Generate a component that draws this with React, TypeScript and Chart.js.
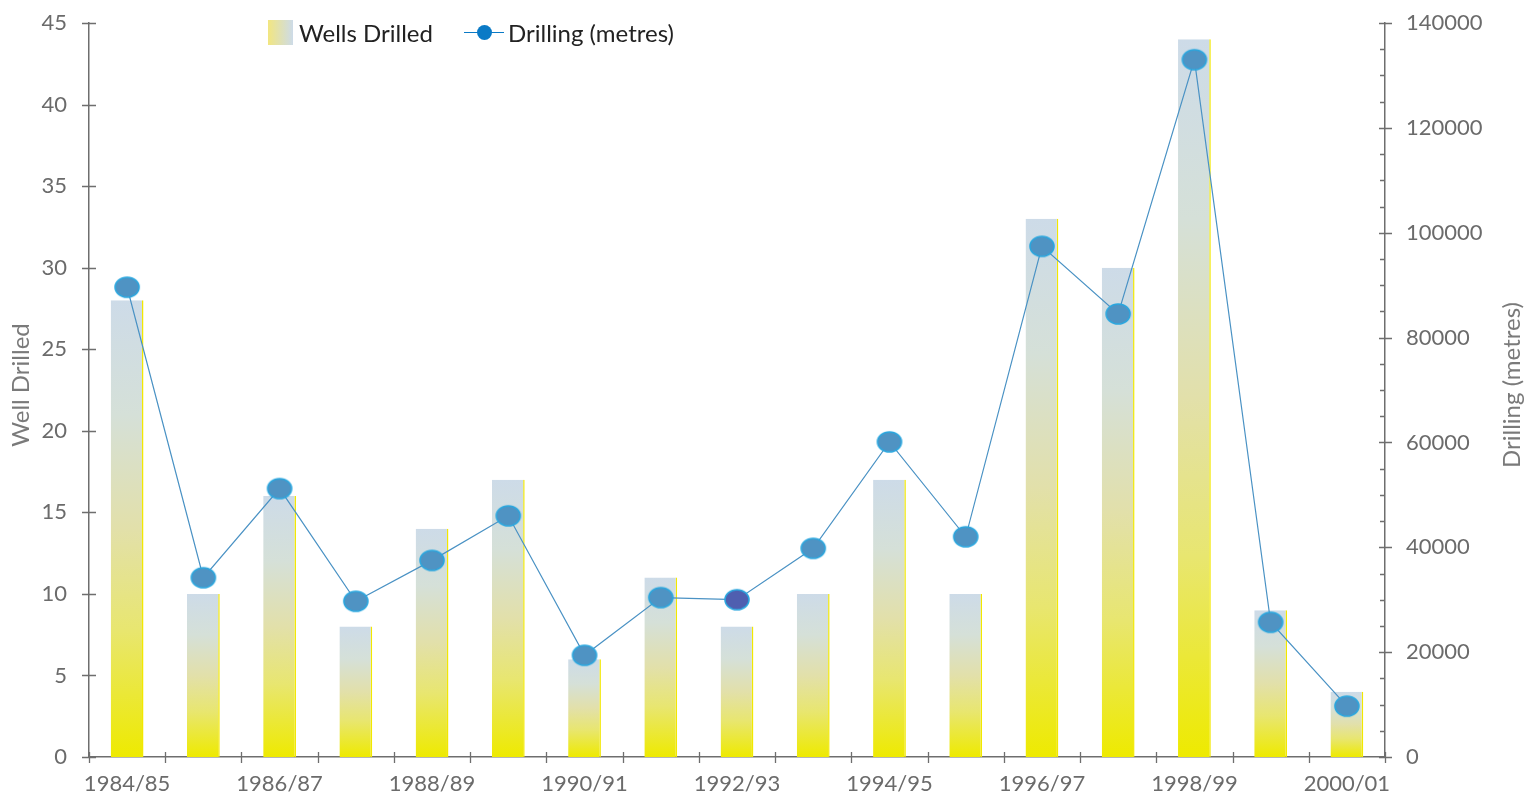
import React, { useEffect, useRef } from "react";
import { Chart, registerables } from "chart.js";

Chart.register(...registerables);

const categories = [
  "1984/85", "1985/86", "1986/87", "1987/88", "1988/89", "1989/90", "1990/91", "1991/92",
  "1992/93", "1993/94", "1994/95", "1995/96", "1996/97", "1997/98", "1998/99", "1999/00", "2000/01",
];
const wellsDrilled = [28, 10, 16, 8, 14, 17, 6, 11, 8, 10, 17, 10, 33, 30, 44, 9, 4];
const drillingMetres = [
  89600, 34200, 51200, 29700, 37500, 46000, 19400, 30400, 30000, 39800, 60100, 42000, 97400,
  84500, 133000, 25700, 9700,
];
const pointFills = [
  "#4f93c3", "#4f93c3", "#4f93c3", "#4f93c3", "#4f93c3", "#4f93c3", "#4f93c3", "#4f93c3",
  "#4f5fb0", "#4f93c3", "#4f93c3", "#4f93c3", "#4f93c3", "#4f93c3", "#4f93c3", "#4f93c3", "#4f93c3",
];
const leftTicks = [0, 5, 10, 15, 20, 25, 30, 35, 40, 45];
const rightTicks = [0, 20000, 40000, 60000, 80000, 100000, 120000, 140000];

const FONT = "Lato, 'Open Sans', sans-serif";
const AXIS_COLOR = "#6e6e6e";
const TEXT_COLOR = "#6b6b6b";

function makeEllipse(fill: string): HTMLCanvasElement {
  const c = document.createElement("canvas");
  c.width = 28;
  c.height = 24;
  const g = c.getContext("2d")!;
  g.beginPath();
  g.ellipse(14, 12, 12, 10, 0, 0, Math.PI * 2);
  g.fillStyle = fill;
  g.fill();
  g.lineWidth = 1.6;
  g.strokeStyle = "#2aa6de";
  g.stroke();
  return c;
}

const axisPlugin = {
  id: "customAxes",
  afterDraw(chart: any) {
    const { ctx, chartArea, scales } = chart;
    const y = scales.y;
    const y1 = scales.y1;
    ctx.save();
    ctx.strokeStyle = AXIS_COLOR;
    ctx.lineWidth = 1.3;
    ctx.beginPath();
    for (const v of leftTicks) {
      const py = Math.round(y.getPixelForValue(v)) + 0.5;
      ctx.moveTo(chartArea.left - 7, py);
      ctx.lineTo(chartArea.left + 7, py);
    }
    for (const v of rightTicks) {
      const py = Math.round(y1.getPixelForValue(v)) + 0.5;
      ctx.moveTo(chartArea.right - 6, py);
      ctx.lineTo(chartArea.right + 7, py);
    }
    for (let v = 5000; v < 140000; v += 5000) {
      if (v % 20000 === 0) continue;
      const py = Math.round(y1.getPixelForValue(v)) + 0.5;
      ctx.moveTo(chartArea.right - 5, py);
      ctx.lineTo(chartArea.right, py);
    }
    const n = categories.length;
    for (let i = 0; i <= n; i++) {
      const px = Math.round(chartArea.left + (i * (chartArea.right - chartArea.left)) / n) + 0.5;
      ctx.moveTo(px, chartArea.bottom - 5);
      ctx.lineTo(px, chartArea.bottom + 6);
    }
    ctx.stroke();

    ctx.fillStyle = "#7a7a7a";
    ctx.font = `24px ${FONT}`;
    ctx.textAlign = "center";
    ctx.textBaseline = "middle";
    const cy = 385;
    ctx.translate(21, cy);
    ctx.rotate(-Math.PI / 2);
    ctx.fillText("Well Drilled", 0, 0);
    ctx.setTransform(1, 0, 0, 1, 0, 0);
    ctx.translate(1512, cy);
    ctx.rotate(-Math.PI / 2);
    ctx.fillText("Drilling (metres)", 0, 0);
    ctx.restore();
  },
};

export default function App() {
  const ref = useRef<HTMLCanvasElement | null>(null);

  useEffect(() => {
    const canvas = ref.current!;
    const pointImgs = pointFills.map((f) => makeEllipse(f));

    const barGradient = (context: any) => {
      const chart = context.chart;
      const ys = chart.scales?.y;
      if (!ys || context.parsed === undefined) return "#e6e690";
      const v = context.parsed.y;
      const top = ys.getPixelForValue(v);
      const bottom = ys.getPixelForValue(0);
      if (!isFinite(top) || !isFinite(bottom) || top === bottom) return "#e6e690";
      const g = chart.ctx.createLinearGradient(0, top, 0, bottom);
      g.addColorStop(0, "#cddbe8");
      g.addColorStop(0.25, "#d5e0d8");
      g.addColorStop(0.5, "#e2e0aa");
      g.addColorStop(0.72, "#e8e670");
      g.addColorStop(1, "#eeea00");
      return g;
    };

    const zeroPad = (s: any) => {
      s.paddingTop = 0;
      s.paddingBottom = 0;
    };

    const chart = new Chart(canvas, {
      data: {
        labels: categories,
        datasets: [
          {
            type: "line",
            label: "Drilling (metres)",
            data: drillingMetres,
            yAxisID: "y1",
            borderColor: "#4a92c4",
            borderWidth: 1.2,
            pointStyle: pointImgs as any,
            pointRadius: 12,
            order: 0,
          } as any,
          {
            type: "bar",
            label: "Wells Drilled",
            data: wellsDrilled,
            yAxisID: "y",
            backgroundColor: barGradient,
            borderColor: "#f2e800",
            borderWidth: { top: 0, left: 0, bottom: 0, right: 1.5 },
            borderSkipped: false,
            barPercentage: 0.43,
            categoryPercentage: 1,
            order: 1,
          } as any,
        ],
      },
      options: {
        animation: false,
        responsive: false,
        maintainAspectRatio: false,
        layout: { padding: { top: 23, left: 0, right: 0, bottom: 0 } },
        plugins: {
          legend: { display: false },
          tooltip: { enabled: false },
        },
        scales: {
          x: {
            type: "category",
            offset: true,
            grid: { display: false, drawTicks: false },
            border: { display: true, color: AXIS_COLOR, width: 1.5 },
            ticks: {
              autoSkip: false,
              maxRotation: 0,
              minRotation: 0,
              padding: 14,
              color: TEXT_COLOR,
              font: { family: FONT, size: 22 },
              callback: (_v: any, i: number) => (i % 2 === 0 ? categories[i] : ""),
            },
            afterFit: (s: any) => {
              s.height = 38;
              s.paddingLeft = 0;
              s.paddingRight = 0;
            },
          },
          y: {
            type: "linear",
            position: "left",
            min: 0,
            max: 45,
            grid: { display: false, drawTicks: false },
            border: { display: true, color: AXIS_COLOR, width: 1.5 },
            ticks: {
              stepSize: 5,
              padding: 22,
              color: TEXT_COLOR,
              font: { family: FONT, size: 22 },
            },
            afterFit: (s: any) => {
              s.width = 89;
              zeroPad(s);
            },
          },
          y1: {
            type: "linear",
            position: "right",
            min: 0,
            max: 140000,
            grid: { display: false, drawTicks: false },
            border: { display: true, color: AXIS_COLOR, width: 1.5 },
            ticks: {
              stepSize: 20000,
              padding: 21,
              color: TEXT_COLOR,
              font: { family: FONT, size: 22 },
              callback: (v: any) => String(v),
            },
            afterFit: (s: any) => {
              s.width = 146;
              zeroPad(s);
            },
          },
        },
      },
      plugins: [axisPlugin],
    } as any);

    return () => chart.destroy();
  }, []);

  return (
    <div style={{ position: "fixed", left: 0, top: 0, width: 1531, height: 795, background: "#fff" }}>
      <canvas ref={ref} width={1531} height={795} style={{ display: "block", width: 1531, height: 795 }} />
      <div
        style={{
          position: "absolute",
          left: 268,
          top: 18,
          height: 28,
          display: "flex",
          alignItems: "center",
          fontFamily: FONT,
          fontSize: 24,
          color: "#222",
          whiteSpace: "nowrap",
        }}
      >
        <span
          style={{
            display: "inline-block",
            width: 25,
            height: 25,
            background: "linear-gradient(to right, #f2e680, #cddbe8)",
            marginRight: 6,
          }}
        />
        <span>Wells Drilled</span>
        <span style={{ position: "relative", display: "inline-block", width: 40, height: 25, marginLeft: 31 }}>
          <span
            style={{
              position: "absolute",
              left: 0,
              top: 12,
              width: 40,
              height: 1.5,
              background: "#0a7ac6",
            }}
          />
          <span
            style={{
              position: "absolute",
              left: 13,
              top: 5,
              width: 15,
              height: 15,
              borderRadius: "50%",
              background: "#0a7ac6",
            }}
          />
        </span>
        <span style={{ marginLeft: 4 }}>Drilling (metres)</span>
      </div>
    </div>
  );
}
